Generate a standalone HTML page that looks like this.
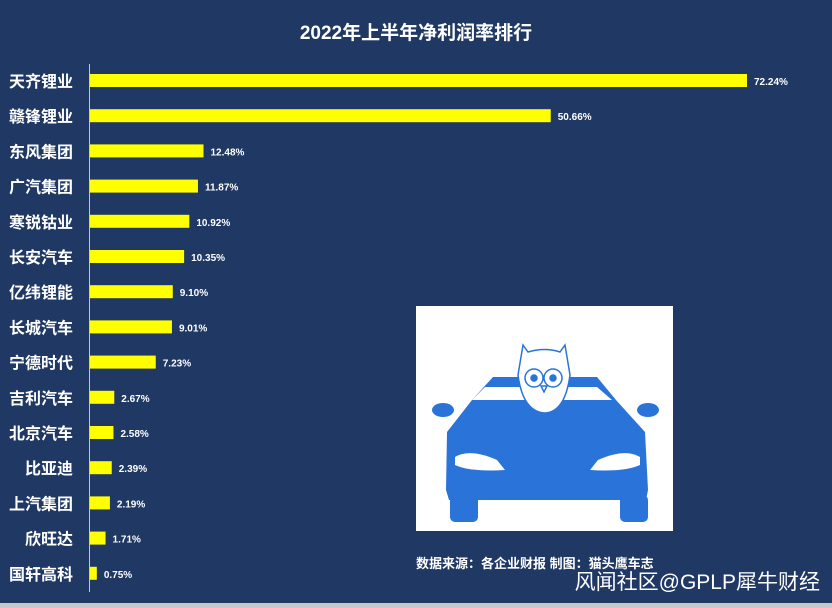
<!DOCTYPE html>
<html><head><meta charset="utf-8"><style>
body{margin:0;background:#ddd;}
#wrap{position:relative;width:832px;height:608px;background:#1f3864;overflow:hidden;font-family:"Liberation Sans","Noto Sans CJK SC",sans-serif;}
#title{position:absolute;left:0;width:832px;top:18px;text-align:center;color:#fff;font-weight:bold;font-size:19px;}
</style></head><body>
<div id="wrap">
<div id="title">2022年上半年净利润率排行</div>
<svg id="svg" width="832" height="608" style="position:absolute;left:0;top:0">
<rect x="0" y="603" width="832" height="5" fill="#c8c8c8"/>
<line x1="89.5" y1="64" x2="89.5" y2="592" stroke="#bfc7d8" stroke-width="1"/>
<g id="bars"></g>
<rect x="416" y="306" width="257" height="225" fill="#fff"/>
<g fill="#2a73d9">
<ellipse cx="443" cy="410" rx="11" ry="7"/>
<ellipse cx="648" cy="410" rx="11" ry="7"/>
<path d="M493,377 L597,377 L616,400 L645,432 L648,490 L646,500 L449,500 L446,490 L447,432 L472,400 Z"/>
<rect x="450" y="495" width="28" height="27" rx="5"/>
<rect x="620" y="495" width="28" height="27" rx="5"/>
<path d="M472,400 L485,387 L597,387 L612,400 Z" fill="#fff"/>
<path d="M455,457 Q470,448 497,460 L505,470 Q470,472 455,465 Z" fill="#fff"/>
<path d="M640,457 Q625,448 598,460 L590,470 Q625,472 640,465 Z" fill="#fff"/>
</g>
<g fill="#fff" stroke="#2a73d9" stroke-width="1.5">
<path d="M523,345 L528,352 Q545,347 560,352 L565,345 L570,375 Q565,412 545,413 Q523,412 518,375 Z"/>
<circle cx="534" cy="378" r="9"/><circle cx="553" cy="378" r="9"/>
<circle cx="534" cy="378" r="3" fill="#2a73d9"/><circle cx="553" cy="378" r="3" fill="#2a73d9"/>
<path d="M541,386 L547,386 L544,392 Z"/>
</g>
<text x="416" y="568" fill="#fff" font-size="13" font-weight="bold">数据来源：各企业财报  制图：猫头鹰车志</text>
<text x="820" y="589" fill="#fff" font-size="21" text-anchor="end">风闻社区@GPLP犀牛财经</text>
</svg>
</div>
<script>
const categories=["天齐锂业","赣锋锂业","东风集团","广汽集团","寒锐钴业","长安汽车","亿纬锂能","长城汽车","宁德时代","吉利汽车","北京汽车","比亚迪","上汽集团","欣旺达","国轩高科"];
const values=[72.24,50.66,12.48,11.87,10.92,10.35,9.10,9.01,7.23,2.67,2.58,2.39,2.19,1.71,0.75];
const valueLabels=["72.24%","50.66%","12.48%","11.87%","10.92%","10.35%","9.10%","9.01%","7.23%","2.67%","2.58%","2.39%","2.19%","1.71%","0.75%"];
const x0=90, scale=(747-90)/72.24;
function xs(v){return x0+v*scale;}
function yc(i){return 81+i*35.2;}
const g=document.getElementById('bars'), NS="http://www.w3.org/2000/svg";
categories.forEach((c,i)=>{
  const r=document.createElementNS(NS,'rect');
  r.setAttribute('x',x0);r.setAttribute('y',yc(i)-7);r.setAttribute('width',xs(values[i])-x0);r.setAttribute('height',13);r.setAttribute('fill','#ffff00');
  
  
  g.appendChild(r);
  const t=document.createElementNS(NS,'text');
  t.setAttribute('x',73);t.setAttribute('y',yc(i)+6);t.setAttribute('text-anchor','end');t.setAttribute('fill','#fff');t.setAttribute('font-size','16');t.setAttribute('font-weight','bold');
  t.textContent=c;
  
  
  g.appendChild(t);
  const v=document.createElementNS(NS,'text');
  v.setAttribute('x',xs(values[i])+7);v.setAttribute('y',yc(i)+4);v.setAttribute('fill','#fff');v.setAttribute('font-size','10');v.setAttribute('font-weight','bold');
  v.textContent=valueLabels[i];
  
  
  g.appendChild(v);
});
</script>
</body></html>
